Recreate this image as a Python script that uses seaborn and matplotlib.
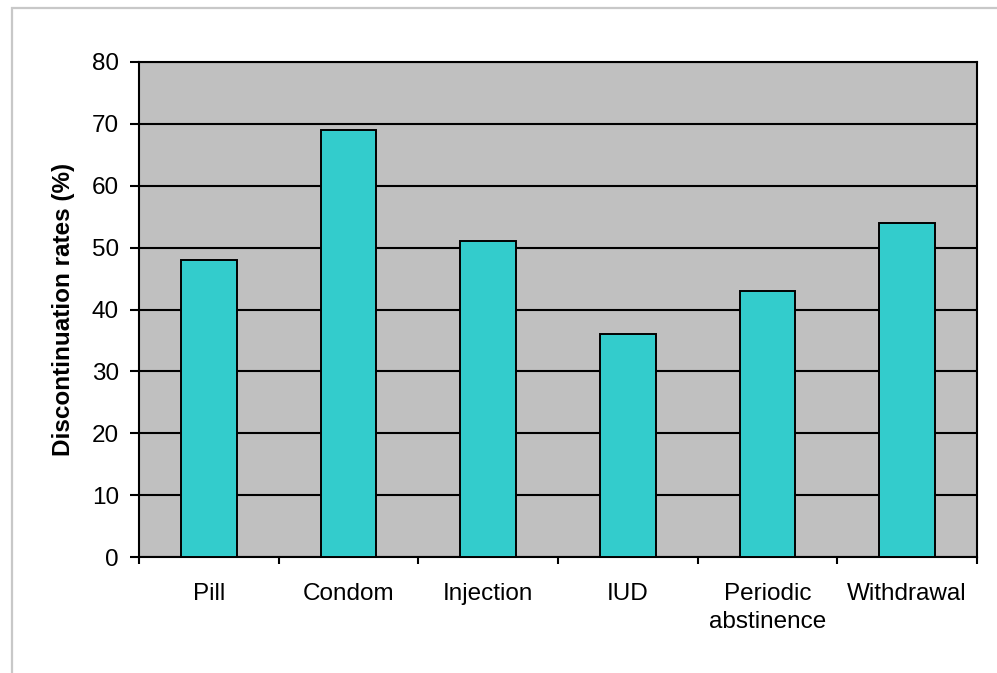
import matplotlib
matplotlib.use("Agg")
import matplotlib.pyplot as plt
from matplotlib.patches import Rectangle
import numpy as np
import pandas as pd
import seaborn as sns

methods = ["Pill", "Condom", "Injection", "IUD", "Periodic\nabstinence", "Withdrawal"]
rates = [48, 69, 51, 36, 43, 54]
y_ticks = [0, 10, 20, 30, 40, 50, 60, 70, 80]

df = pd.DataFrame({"Method": methods, "Rate": rates})

sns.set_style("white")
plt.rcParams['font.family'] = ['Liberation Sans', 'DejaVu Sans']
plt.rcParams.update({"text.color": "black", "axes.labelcolor": "black",
                     "xtick.color": "black", "ytick.color": "black"})

W, H = 997, 673
fig = plt.figure(figsize=(W / 100, H / 100), dpi=100)
ax = fig.add_axes([139 / W, 1 - 557 / H, (977 - 139) / W, (557 - 62) / H])
ax.set_facecolor("#C0C0C0")

# light gray outer chart border (right/bottom edges fall outside the image)
fig.patches.append(Rectangle((12 / W, -0.1), 1.2, 1 - 8 / H + 0.1,
                             transform=fig.transFigure, fill=False,
                             edgecolor="#C8C8C8", linewidth=1.6, zorder=0))

sns.barplot(data=df, x="Method", y="Rate", ax=ax, color="#33CCCC",
            saturation=1, width=0.4, edgecolor="black", linewidth=1.4, zorder=3)

ax.set_ylim(0, 80)
ax.set_xlim(-0.5, len(methods) - 0.5)
ax.set_yticks(y_ticks)
ax.yaxis.grid(True, color="black", linewidth=1.5, zorder=1)
ax.set_axisbelow(True)

for s in ax.spines.values():
    s.set_visible(True)
    s.set_color("black")
    s.set_linewidth(1.5)

ax.set_xticks(np.arange(len(methods) + 1) - 0.5, minor=True)
ax.tick_params(axis="x", which="major", length=0, pad=19, labelsize=17.5)
ax.tick_params(axis="x", which="minor", length=5, width=1.5, color="black", bottom=True)
ax.tick_params(axis="y", which="major", length=6.5, width=1.5, color="black",
               pad=8, labelsize=17.5, left=True)
for lbl in ax.get_xticklabels():
    lbl.set_linespacing(1.35)

ax.set_xlabel("")
ax.set_ylabel("Discontinuation rates (%)", fontsize=17.5, fontweight="bold", labelpad=12)

fig.savefig("out.png", dpi=100)
